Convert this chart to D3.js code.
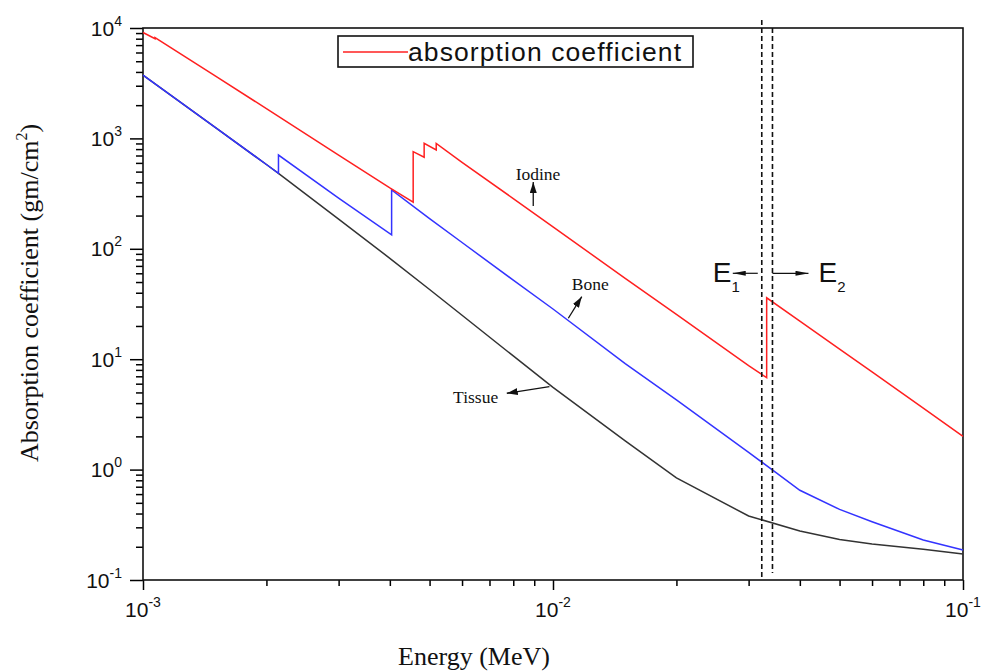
<!DOCTYPE html>
<html>
<head>
<meta charset="utf-8">
<script src="https://cdn.jsdelivr.net/npm/d3@7"></script>
<style>
  body { margin: 0; background: #fff; }
  .tickLbl { font-family: "Liberation Sans", Arial, sans-serif; fill: #111; }
  .serif { font-family: "Liberation Serif", "Times New Roman", serif; fill: #111; }
</style>
</head>
<body>
<svg id="chart" width="982" height="672"></svg>
<script>
// energy (MeV) and absorption coefficient (gm/cm^2), repeated energies are absorption edges
const iodineE  = [0.001, 0.00107, 0.00107, 0.0015, 0.002, 0.003, 0.004, 0.00456, 0.00456, 0.00485, 0.00485, 0.00519, 0.00519, 0.006, 0.008, 0.01, 0.015, 0.02, 0.03, 0.0332, 0.0332, 0.04, 0.05, 0.06, 0.08, 0.1];
const iodineMu = [9100, 8000, 8200, 3680, 1860, 705, 356, 265, 759, 675, 904, 786, 900, 607, 285, 158, 54, 25.5, 8.75, 6.8, 36, 22.1, 12.35, 7.67, 3.6, 2.0];

const boneE  = [0.001, 0.0015, 0.002, 0.00214, 0.00214, 0.003, 0.00404, 0.00404, 0.005, 0.006, 0.008, 0.01, 0.015, 0.02, 0.03, 0.035, 0.04, 0.05, 0.06, 0.08, 0.1];
const boneMu = [3750, 1260, 580, 483, 707, 288, 134, 341, 188, 114, 52, 28.5, 9.1, 4.28, 1.43, 0.94, 0.65, 0.436, 0.337, 0.23, 0.187];

const tissueE  = [0.001, 0.0015, 0.002, 0.00214, 0.003, 0.004, 0.005, 0.006, 0.008, 0.01, 0.015, 0.02, 0.03, 0.04, 0.05, 0.06, 0.08, 0.1];
const tissueMu = [3750, 1260, 580, 483, 186, 82, 42.8, 25, 10.7, 5.55, 1.82, 0.84, 0.38, 0.278, 0.233, 0.212, 0.19, 0.172];

const xDecades = [-3, -2, -1];
const yDecades = [-1, 0, 1, 2, 3, 4];
const edgeE1 = 0.0323, edgeE2 = 0.0343;
const edgeLabelLevel = 60;

const notes = [
  { text: "Iodine", e: 0.00895, v: 244, dx: 0, dy: -24, lx: -17.6, ly: -26 },
  { text: "Bone", e: 0.0109, v: 23.5, dx: 13.4, dy: -21.6, lx: 3.4, ly: -28.3 },
  { text: "Tissue", e: 0.0098, v: 5.64, dx: -42.6, dy: 6.6, lx: -96.3, ly: 16.3 }
];

const plotL = 143, plotR = 963, plotT = 28, plotB = 580;

const svgSpace = d3.select("#chart");

const x = d3.scaleLog().domain([1e-3, 1e-1]).range([plotL, plotR]);
const y = d3.scaleLog().domain([1e-1, 1e4]).range([plotB, plotT]);

const defs = svgSpace.append("defs");
defs.append("marker")
    .attr("id", "headSmall")
    .attr("viewBox", "0 0 11 7")
    .attr("refX", 11).attr("refY", 3.5)
    .attr("markerWidth", 11).attr("markerHeight", 7)
    .attr("markerUnits", "userSpaceOnUse")
    .attr("orient", "auto")
    .append("path").attr("d", "M0,0 L11,3.5 L0,7 Z").attr("fill", "#111");
defs.append("marker")
    .attr("id", "headLong")
    .attr("viewBox", "0 0 13 5")
    .attr("refX", 13).attr("refY", 2.5)
    .attr("markerWidth", 13).attr("markerHeight", 5)
    .attr("markerUnits", "userSpaceOnUse")
    .attr("orient", "auto")
    .append("path").attr("d", "M0,0 L13,2.5 L0,5 Z").attr("fill", "#111");

// log ticks: decades are major, 2..9 are minor
const xTicks = [];
xDecades.forEach((p, i) => {
    xTicks.push(Math.pow(10, p));
    if (i < xDecades.length - 1) for (let k = 2; k <= 9; k++) xTicks.push(k * Math.pow(10, p));
});
const yTicks = [];
yDecades.forEach((p, i) => {
    yTicks.push(Math.pow(10, p));
    if (i < yDecades.length - 1) for (let k = 2; k <= 9; k++) yTicks.push(k * Math.pow(10, p));
});
const isMajor = (v) => Math.abs(Math.log10(v) - Math.round(Math.log10(v))) < 1e-6;

const xAxis = svgSpace.append("g")
    .attr("transform", "translate(0," + plotB + ")")
    .call(d3.axisBottom(x).tickValues(xTicks).tickFormat("").tickSizeOuter(0));
xAxis.selectAll(".tick line").attr("y2", (d) => isMajor(d) ? 10 : 6).attr("stroke-width", 1.5);

const yAxis = svgSpace.append("g")
    .attr("transform", "translate(" + plotL + ",0)")
    .call(d3.axisLeft(y).tickValues(yTicks).tickFormat("").tickSizeOuter(0));
yAxis.selectAll(".tick line").attr("x2", (d) => isMajor(d) ? -13 : -7).attr("stroke-width", 1.5);
svgSpace.selectAll(".domain").attr("stroke", "none");

// frame
svgSpace.append("rect")
    .attr("x", plotL).attr("y", plotT)
    .attr("width", plotR - plotL).attr("height", plotB - plotT)
    .attr("fill", "none").attr("stroke", "#111").attr("stroke-width", 1.6);

// tick labels 10^n
const xLbl = svgSpace.append("g").selectAll("text")
    .data(xDecades).enter().append("text")
    .attr("class", "tickLbl")
    .attr("x", (d) => x(Math.pow(10, d)))
    .attr("y", plotB + 37)
    .attr("text-anchor", "middle")
    .style("font-size", "21px");
xLbl.append("tspan").text("10");
xLbl.append("tspan").attr("dy", -10).style("font-size", "14px").text((d) => d);

const yLbl = svgSpace.append("g").selectAll("text")
    .data(yDecades).enter().append("text")
    .attr("class", "tickLbl")
    .attr("x", plotL - 21)
    .attr("y", (d) => y(Math.pow(10, d)) + 7.5)
    .attr("text-anchor", "end")
    .style("font-size", "21px");
yLbl.append("tspan").text("10");
yLbl.append("tspan").attr("dy", -10).style("font-size", "14px").text((d) => d);

// axis titles
const yTitle = svgSpace.append("text")
    .attr("class", "serif")
    .attr("transform", "translate(38," + ((plotT + plotB) / 2 - 11) + ") rotate(-90)")
    .attr("text-anchor", "middle")
    .style("font-size", "26px");
yTitle.append("tspan").text("Absorption coefficient (gm/cm");
yTitle.append("tspan").attr("dy", -11).style("font-size", "16px").text("2");
yTitle.append("tspan").attr("dy", 11).text(")");

svgSpace.append("text")
    .attr("class", "serif")
    .attr("x", 474).attr("y", 665)
    .attr("text-anchor", "middle")
    .style("font-size", "26px")
    .text("Energy (MeV)");

// curves
const line = d3.line().x((d) => x(d[0])).y((d) => y(d[1]));
const series = [
    { name: "tissue", pts: d3.zip(tissueE, tissueMu), color: "#333" },
    { name: "bone", pts: d3.zip(boneE, boneMu), color: "#3333ff" },
    { name: "iodine", pts: d3.zip(iodineE, iodineMu), color: "#ff2020" }
];
svgSpace.append("g").selectAll("path")
    .data(series).enter().append("path")
    .attr("d", (d) => line(d.pts))
    .attr("fill", "none")
    .attr("stroke", (d) => d.color)
    .attr("stroke-width", 1.5)
    .attr("stroke-linejoin", "miter");

// dashed edge markers
svgSpace.append("line")
    .attr("x1", x(edgeE1)).attr("x2", x(edgeE1))
    .attr("y1", plotT - 8).attr("y2", plotB - 2)
    .attr("stroke", "#111").attr("stroke-width", 1.6).attr("stroke-dasharray", "5,3");
svgSpace.append("line")
    .attr("x1", x(edgeE2)).attr("x2", x(edgeE2))
    .attr("y1", plotT).attr("y2", plotB - 7)
    .attr("stroke", "#111").attr("stroke-width", 1.6).attr("stroke-dasharray", "5,3");

const ey = y(edgeLabelLevel);
svgSpace.append("line")
    .attr("x1", x(edgeE1) - 4).attr("x2", x(edgeE1) - 29)
    .attr("y1", ey).attr("y2", ey)
    .attr("stroke", "#111").attr("stroke-width", 1.2).attr("marker-end", "url(#headLong)");
svgSpace.append("line")
    .attr("x1", x(edgeE2)).attr("x2", x(edgeE2) + 36)
    .attr("y1", ey).attr("y2", ey)
    .attr("stroke", "#111").attr("stroke-width", 1.2).attr("marker-end", "url(#headLong)");

const e1 = svgSpace.append("text").attr("class", "tickLbl")
    .attr("x", x(edgeE1) - 49).attr("y", ey + 9)
    .style("font-size", "28px");
e1.append("tspan").text("E");
e1.append("tspan").attr("dy", 10).style("font-size", "15px").text("1");
const e2 = svgSpace.append("text").attr("class", "tickLbl")
    .attr("x", x(edgeE2) + 46).attr("y", ey + 9)
    .style("font-size", "28px");
e2.append("tspan").text("E");
e2.append("tspan").attr("dy", 10).style("font-size", "15px").text("2");

// curve annotations
const noteG = svgSpace.append("g").selectAll("g")
    .data(notes).enter().append("g")
    .attr("transform", (d) => "translate(" + x(d.e) + "," + y(d.v) + ")");
noteG.append("line")
    .attr("x1", 0).attr("y1", 0)
    .attr("x2", (d) => d.dx).attr("y2", (d) => d.dy)
    .attr("stroke", "#111").attr("stroke-width", 1.3)
    .attr("marker-end", "url(#headSmall)");
noteG.append("text")
    .attr("class", "serif")
    .attr("x", (d) => d.lx).attr("y", (d) => d.ly)
    .style("font-size", "17.5px")
    .text((d) => d.text);

// legend
const legend = svgSpace.append("g");
legend.append("rect")
    .attr("x", 338).attr("y", 36).attr("width", 355).attr("height", 31)
    .attr("fill", "#fff").attr("stroke", "#111").attr("stroke-width", 1.6);
legend.append("line")
    .attr("x1", 343).attr("x2", 408).attr("y1", 52).attr("y2", 52)
    .attr("stroke", "#ff2020").attr("stroke-width", 1.5);
legend.append("text")
    .attr("class", "tickLbl")
    .attr("x", 408).attr("y", 61)
    .attr("textLength", 273)
    .style("font-size", "26.5px")
    .text("absorption coefficient");
</script>
</body>
</html>
